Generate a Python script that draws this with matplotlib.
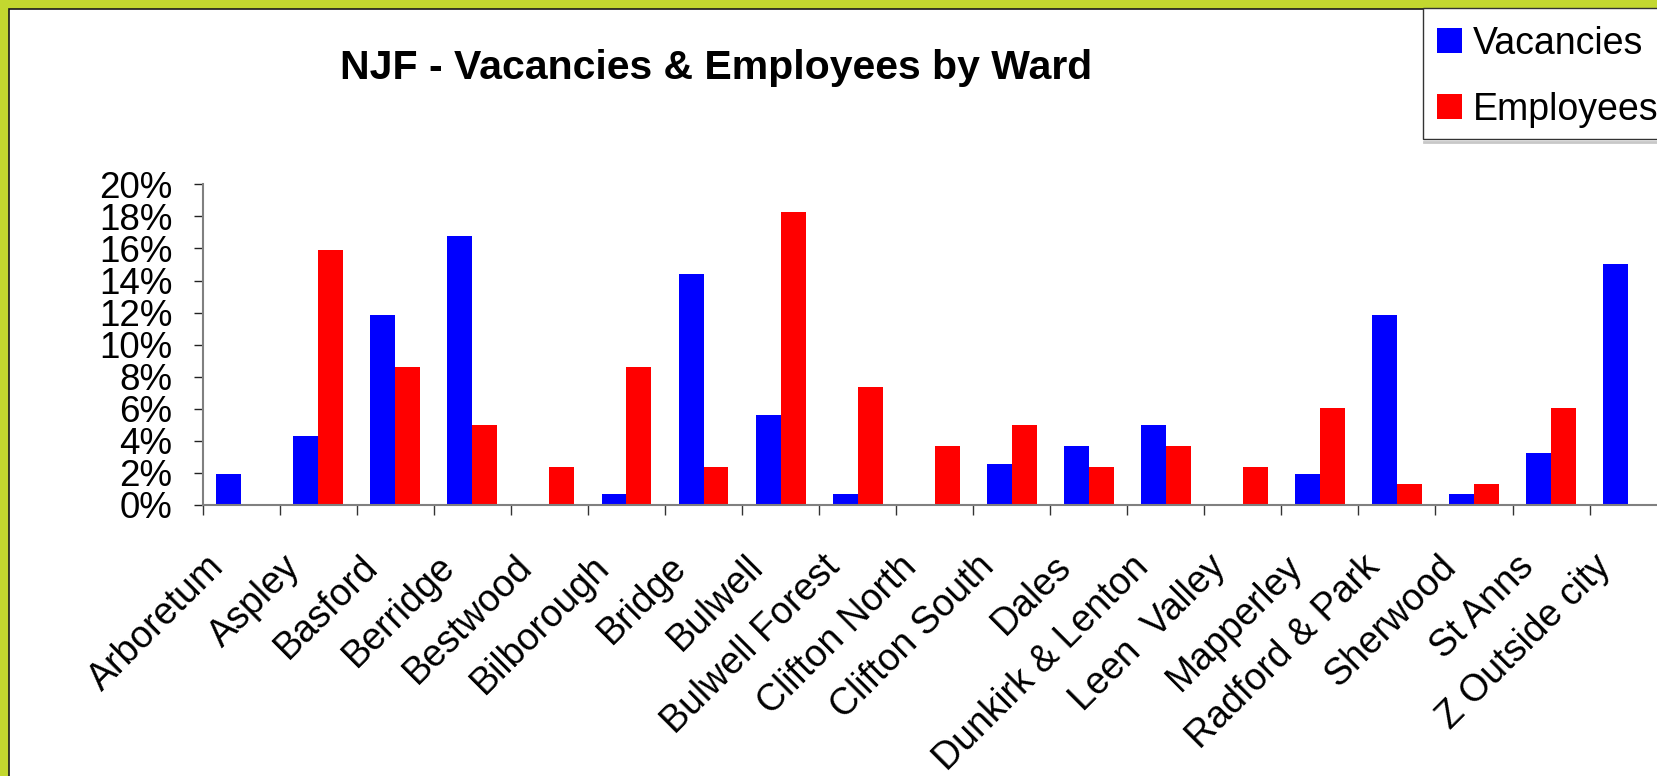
import matplotlib
matplotlib.use('Agg')
import matplotlib.pyplot as plt
from matplotlib.patches import Rectangle
from matplotlib.lines import Line2D
import matplotlib.transforms as mtransforms
import numpy as np

plt.rcParams['font.family'] = ['Liberation Sans', 'DejaVu Sans']

# ---- data (percent) ----
wards = ['Arboretum', 'Aspley', 'Basford', 'Berridge', 'Bestwood', 'Bilborough',
         'Bridge', 'Bulwell', 'Bulwell Forest', 'Clifton North', 'Clifton South',
         'Dales', 'Dunkirk & Lenton', 'Leen  Valley', 'Mapperley', 'Radford & Park',
         'Sherwood', 'St Anns', 'Z Outside city']
vacancies = [1.93, 4.3, 11.85, 16.8, 0, 0.69, 14.4, 5.6, 0.69, 0, 2.56, 3.68,
             4.99, 0, 1.93, 11.85, 0.69, 3.24, 15.03]
employees = [0, 15.9, 8.6, 4.99, 2.37, 8.6, 2.37, 18.27, 7.36, 3.68, 4.99, 2.37,
             3.68, 2.37, 6.05, 1.31, 1.31, 6.05, 0]
y_ticks = list(range(0, 21, 2))
title = 'NJF - Vacancies & Employees by Ward'
series_names = ['Vacancies', 'Employees']
colors = ['#0000FF', '#FF0000']

W, H = 1657, 776
fig = plt.figure(figsize=(W / 100, H / 100), dpi=100)
fig.patch.set_facecolor('#C3D82F')

# white chart area with dark border (left/top visible)
panel = Rectangle((9 / W, -0.2), 1.5, 1.2 - 8.5 / H, transform=fig.transFigure,
                  facecolor='white', edgecolor='#1a1a1a', linewidth=1.2, zorder=-5)
fig.patches.append(panel)

n = len(wards)
ax = fig.add_axes([202.7 / W, 271 / H, 77.05 * n / W, 320.7 / H])
ax.set_zorder(2)
ax.set_facecolor('none')
x = np.arange(n)
bw = 0.324
ax.bar(x - bw / 2, vacancies, bw, color=colors[0], label=series_names[0], zorder=2)
ax.bar(x + bw / 2, employees, bw, color=colors[1], label=series_names[1], zorder=2)

ax.set_xlim(-0.5, n - 0.5)
ax.set_ylim(0, 20)
ax.set_yticks(y_ticks)
ax.set_yticklabels([f'{v}%' for v in y_ticks], fontsize=26.5)

for s in ['top', 'right']:
    ax.spines[s].set_visible(False)
for s in ['left', 'bottom']:
    ax.spines[s].set_color('#808080')
    ax.spines[s].set_linewidth(1.5)

ax.tick_params(axis='y', direction='out', length=6.7, width=1.0, color='#222222',
               pad=15.0)
ax.set_xticks(x)
ax.set_xticks(np.arange(n + 1) - 0.5, minor=True)
ax.tick_params(axis='x', which='major', length=0, pad=40.5)
ax.tick_params(axis='x', which='minor', direction='out', length=7.2, width=1.0,
               color='#333333')
ax.set_xticklabels(wards, fontsize=27, rotation=45, ha='right', va='center',
                   rotation_mode='anchor')
offset = mtransforms.ScaledTranslation(-23 / 100, 0, fig.dpi_scale_trans)
for lbl in ax.get_xticklabels():
    lbl.set_transform(lbl.get_transform() + offset)

fig.text(716.5 / W, 1 - 79 / H, title, ha='center', va='baseline',
         fontsize=29.5, fontweight='bold')

# legend frame (extends past the right edge) with a light shadow line
fig.patches.append(Rectangle((1423 / W, 1 - 139 / H), 300 / W, (139 - 8.5) / H,
                             transform=fig.transFigure, facecolor='white',
                             edgecolor='#333333', linewidth=1.0, zorder=4))
fig.lines.append(Line2D([1424 / W, 1.0], [1 - 141.5 / H, 1 - 141.5 / H],
                        transform=fig.transFigure, color='#c8c8c8', linewidth=2,
                        zorder=4))
leg = fig.legend(loc='upper left', bbox_to_anchor=(1423 / W, 0, 400 / W, 1 - 12 / H),
                 mode='expand', borderaxespad=0, frameon=False,
                 fontsize=27, handlelength=0.667, handleheight=0.667,
                 handletextpad=0.3, labelspacing=0.80, borderpad=0.37)
leg.set_zorder(5)

fig.savefig('out.png', dpi=100, facecolor=fig.get_facecolor())
